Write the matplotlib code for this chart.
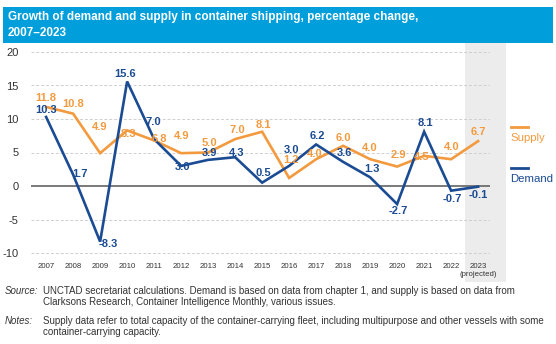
import matplotlib.pyplot as plt
from matplotlib.lines import Line2D
from matplotlib.patches import Rectangle

years = list(range(2007, 2024))
year_labels = [str(y) for y in years[:-1]] + ["2023\n(projected)"]
supply = [11.8, 10.8, 4.9, 8.3, 6.8, 4.9, 5.0, 7.0, 8.1, 1.2, 4.0, 6.0, 4.0, 2.9, 4.5, 4.0, 6.7]
demand = [10.3, 1.7, -8.3, 15.6, 7.0, 3.0, 3.9, 4.3, 0.5, 3.0, 6.2, 3.6, 1.3, -2.7, 8.1, -0.7, -0.1]

# label offsets in pixels (dx, dy), up is positive
supply_off = [(0, 9), (0, 10), (0, 26), (1, -4), (5, 1), (1, 17), (1, 10), (2, 9), (1, 7),
              (2, 18), (-1, 5), (0, 8), (0, 11), (1, 12), (-2, -1), (1, 12), (0, 9)]
demand_off = [(0, 7), (7, 1), (8, -2), (-2, 7), (-1, 17), (1, -1), (1, 7), (2, 4), (1, 10),
              (2, 16), (1, 8), (1, 9), (2, 8), (1, -7), (1, 9), (1, -8), (0, -8)]

ORANGE = "#F39A3E"
BLUE = "#1A4B93"
UNBLUE = "#009EDB"

W, H = 556, 344
fig = plt.figure(figsize=(W / 100, H / 100), dpi=100)
fig.patch.set_facecolor("white")

def fx(px):
    return px / W

def fy(py):
    return 1 - py / H

# axes: x 2006.44 -> px 31, 2023.44 -> px 490 ; y 20.5 -> 48.65, -10.5 -> 256.35
ax = fig.add_axes([fx(31), fy(256.35), fx(490 - 31), (256.35 - 48.65) / H])
ax.set_xlim(2006.44, 2023.44)
ax.set_ylim(-10.5, 20.5)
for s in ax.spines.values():
    s.set_visible(False)
ax.patch.set_alpha(0)

# projected shading
ax.axvspan(2022.5, 2024.05, ymin=-0.123, ymax=1.027, clip_on=False,
           color="#ECECEC", lw=0, zorder=0)

for v in [-10, -5, 5, 10, 15, 20]:
    ax.axhline(v, color="#CFCFCF", lw=0.7, ls=(0, (3, 2)), zorder=1)
ax.axhline(0, color="#6E6E6E", lw=1.3, zorder=2)

ax.plot(years, supply, color=ORANGE, lw=1.9, zorder=3, solid_joinstyle="miter")
ax.plot(years, demand, color=BLUE, lw=1.9, zorder=4, solid_joinstyle="miter")

lab_font = dict(family=["Liberation Sans", "DejaVu Sans"], fontsize=8, fontweight="bold")
for x, v, (dx, dy) in zip(years, supply, supply_off):
    ax.annotate(f"{v:.1f}", (x, v), xytext=(dx, dy), textcoords="offset pixels",
                ha="center", va="center", color=ORANGE, zorder=5, **lab_font)
for x, v, (dx, dy) in zip(years, demand, demand_off):
    ax.annotate(f"{v:.1f}", (x, v), xytext=(dx, dy), textcoords="offset pixels",
                ha="center", va="center", color=BLUE, zorder=6, **lab_font)

ax.set_yticks([-10, -5, 0, 5, 10, 15, 20])
ax.set_yticklabels(["-10", "-5", "0", "5", "10", "15", "20"],
                   fontsize=8, color="#333333", family="Liberation Sans")
ax.set_xticks(years)
ax.set_xticklabels(year_labels, fontsize=5.6, color="#333333",
                   family="Liberation Sans", va="top", linespacing=1.1)
ax.tick_params(axis="both", length=0)
ax.tick_params(axis="y", pad=9)
ax.tick_params(axis="x", pad=5)

# title banner
fig.add_artist(Rectangle((fx(3), fy(43)), fx(550), (43 - 7) / H,
                         transform=fig.transFigure, color=UNBLUE, lw=0, zorder=0))
fig.text(fx(8), fy(25), "Growth of demand and supply in container shipping, percentage change,\n2007\u20132023",
         color="white", fontsize=8.5, fontweight="bold", family="Liberation Sans",
         va="center", ha="left", linespacing=1.35)

# legend
for name, col, ly in [("Supply", ORANGE, 127), ("Demand", BLUE, 168)]:
    fig.add_artist(Line2D([fx(511), fx(528)], [fy(ly), fy(ly)], color=col, lw=2.0,
                          transform=fig.transFigure))
    fig.text(fx(510), fy(ly + 11), name, color=col, fontsize=8.2,
             family="Liberation Sans", va="center", ha="left")

# footer
foot = dict(fontsize=7.05, color="#333333", family="Liberation Sans", va="center", ha="left")
fig.text(fx(5), fy(291), "Source:", style="italic", **foot)
fig.text(fx(43), fy(291), "UNCTAD secretariat calculations. Demand is based on data from chapter 1, and supply is based on data from", **foot)
fig.text(fx(43), fy(302), "Clarksons Research, Container Intelligence Monthly, various issues.", **foot)
fig.text(fx(5), fy(321), "Notes:", style="italic", **foot)
fig.text(fx(43), fy(321), "Supply data refer to total capacity of the container-carrying fleet, including multipurpose and other vessels with some", **foot)
fig.text(fx(43), fy(332), "container-carrying capacity.", **foot)

fig.savefig("out.png", dpi=100)
